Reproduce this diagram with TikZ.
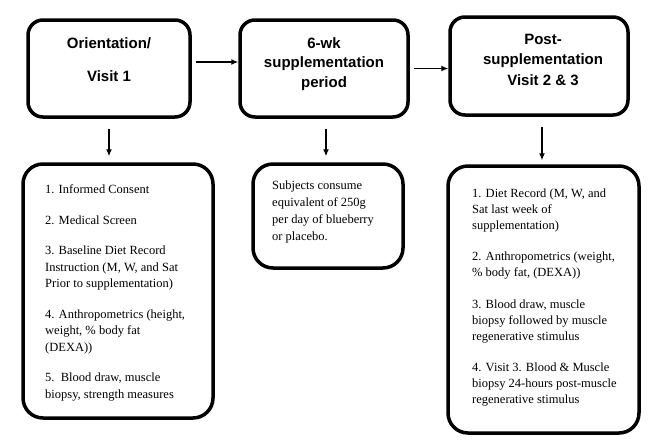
\documentclass[tikz,border=0pt]{standalone}
\usepackage{fontspec}
\setmainfont{Liberation Serif}
\newfontfamily\headfont{Liberation Sans}
\usetikzlibrary{arrows.meta}
\begin{document}
\begin{tikzpicture}[x=1pt,y=-1pt,
  topbox/.style={draw, line width=3.5pt, rounded corners=15pt, inner sep=0pt},
  lowbox/.style={draw, line width=3.5pt, rounded corners=20pt, inner sep=0pt},
  head/.style={font=\headfont\bfseries\fontsize{15}{18}\selectfont, inner sep=0pt, anchor=base},
  body/.style={font=\fontsize{12.5}{16.5}\selectfont, inner sep=0pt, anchor=north west, align=left},
  arr/.style={-{Latex[length=7pt,width=6pt]}, line width=1.2pt}]
\useasboundingbox (0,0) rectangle (654,442);
% top boxes
\node[topbox, minimum width=162pt, minimum height=97pt] (b1) at (109,68.5) {};
\node[topbox, minimum width=168pt, minimum height=97pt] (b2) at (324,68.5) {};
\node[topbox, minimum width=178pt, minimum height=98pt] (b3) at (539,66) {};
% headings
\node[head] (h1a) at (109,48.4) {Orientation/};
\node[head] (h1b) at (109,81.4) {Visit 1};
\node[head] (h2a) at (324,48.4) {6-wk};
\node[head] (h2b) at (324,67.4) {supplementation};
\node[head] (h2c) at (324,87.4) {period};
\node[head] (h3a) at (543,44.4) {Post-};
\node[head] (h3b) at (543,64.4) {supplementation};
\node[head] (h3c) at (543,85.4) {Visit 2 \& 3};
% lower boxes
\node[lowbox, minimum width=190pt, minimum height=254pt] (l1) at (118,291) {};
\node[lowbox, minimum width=150pt, minimum height=104pt] (l2) at (328,216) {};
\node[lowbox, minimum width=191pt, minimum height=267pt] (l3) at (543.5,299.5) {};
% lower texts
\node[body] (t1) at (45,184.7) {1. Informed Consent\\[14pt]
2. Medical Screen\\[14pt]
3. Baseline Diet Record\\Instruction (M, W, and Sat\\Prior to supplementation)\\[14pt]
4. Anthropometrics (height,\\weight, \% body fat\\(DEXA))\\[14pt]
5.\ \ Blood draw, muscle\\biopsy, strength measures};
\node[body, font=\fontsize{12.5}{17}\selectfont] (t2) at (272,180.7) {Subjects consume\\equivalent of 250g\\per day of blueberry\\or placebo.};
\node[body, font=\fontsize{12.5}{15.8}\selectfont] (t3) at (472,188.7) {1. Diet Record (M, W, and\\Sat last week of\\supplementation)\\[16pt]
2. Anthropometrics (weight,\\\% body fat, (DEXA))\\[16pt]
3. Blood draw, muscle\\biopsy followed by muscle\\regenerative stimulus\\[16pt]
4. Visit 3. Blood \& Muscle\\biopsy 24-hours post-muscle\\regenerative stimulus};
% connectors
\draw[arr] ([xshift=4pt,yshift=6.5pt]b1.east) -- ([yshift=6.5pt]b2.west);
\draw[arr] ([xshift=4pt]b2.east) -- (b2.east -| b3.west);
\draw[arr, shorten <=10pt, shorten >=6pt] (b1.south) -- (b1.south |- l1.north);
\draw[arr, shorten <=10pt, shorten >=6pt] ([xshift=2pt]b2.south) -- ([xshift=2pt]b2.south |- l2.north);
\draw[arr, shorten <=10pt, shorten >=4pt] ([xshift=3pt]b3.south) -- ([xshift=3pt]b3.south |- l3.north);
\end{tikzpicture}
\end{document}
